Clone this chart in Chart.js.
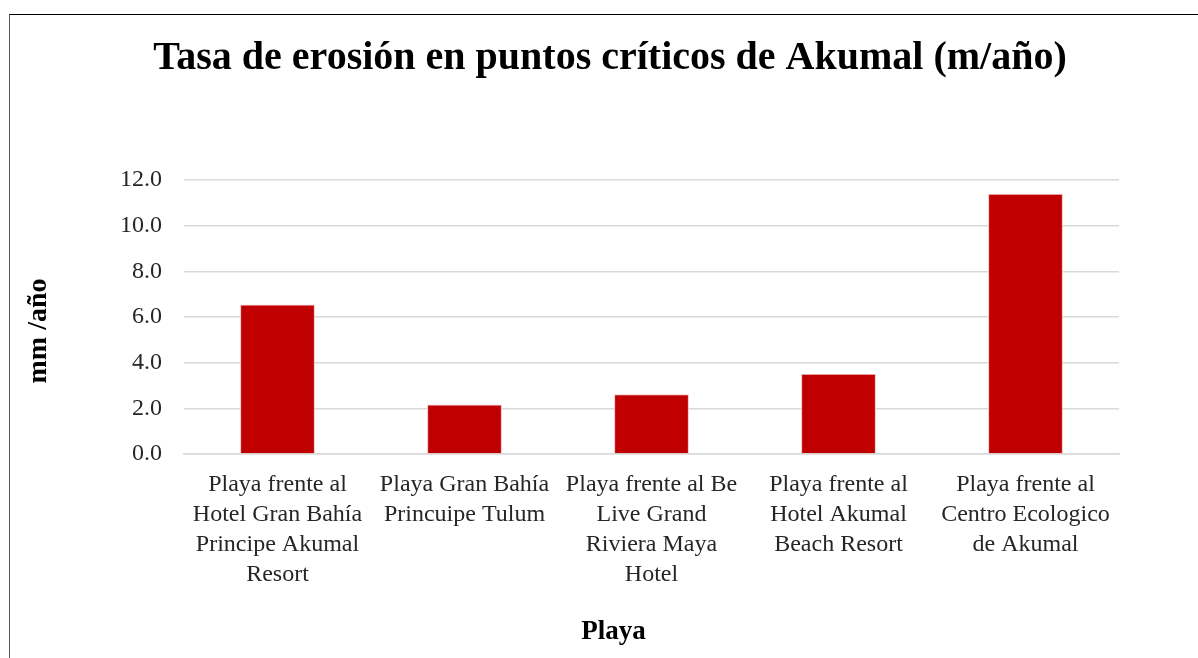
<!DOCTYPE html>
<html>
<head>
<meta charset="utf-8">
<script src="https://cdn.jsdelivr.net/npm/chart.js@4"></script>
<style>
  html, body { margin: 0; padding: 0; background: #fff; overflow: hidden; }
  #frame { position: absolute; left: 9px; top: 14px; width: 1300px; height: 800px;
           border-top: 1px solid #000; border-left: 1px solid #595959; }
  #wrap { position: absolute; left: 0; top: 0; width: 1198px; height: 658px; }
</style>
</head>
<body>
<div id="frame"></div>
<div id="wrap"><canvas id="chart"></canvas></div>
<script>
const chartTitle = 'Tasa de erosión en puntos críticos de Akumal (m/año)';
const yTitle = 'mm /año';
const xTitle = 'Playa';

const playas = [
    ['Playa frente al', 'Hotel Gran Bahía', 'Principe Akumal', 'Resort'],
    ['Playa Gran Bahía', 'Princuipe Tulum'],
    ['Playa frente al Be', 'Live Grand', 'Riviera Maya', 'Hotel'],
    ['Playa frente al', 'Hotel Akumal', 'Beach Resort'],
    ['Playa frente al', 'Centro Ecologico', 'de Akumal']
];
const tasaErosion = [6.55, 2.17, 2.62, 3.52, 11.4];

const serif = '"Liberation Serif", "DejaVu Serif", serif';

// titles drawn by hand so they sit where Excel put them (not centred on the plot area)
const titlesPlugin = {
    id: 'titles',
    afterDraw(chart) {
        const c = chart.ctx;
        const area = chart.chartArea;
        c.save();
        c.fillStyle = '#000';
        c.textAlign = 'center';
        c.textBaseline = 'alphabetic';

        c.font = 'bold 40px ' + serif;
        c.fillText(chartTitle, chart.width / 2 + 11, 69);

        c.font = 'bold 27px ' + serif;
        c.fillText(xTitle, (area.left + area.right) / 2 - 38, 639);

        c.font = 'bold 28px ' + serif;
        c.translate(46, (area.top + area.bottom) / 2 + 14);
        c.rotate(-Math.PI / 2);
        c.fillText(yTitle, 0, 0);
        c.restore();
    }
};

const ctx = document.getElementById('chart').getContext('2d');
new Chart(ctx, {
    type: 'bar',
    data: {
        labels: playas,
        datasets: [{
            label: 'Tasa de erosión',
            data: tasaErosion,
            backgroundColor: '#C00000',
            borderColor: '#f2c4c4',
            borderWidth: 1,
            barPercentage: 0.4,
            categoryPercentage: 1
        }]
    },
    options: {
        responsive: true,
        maintainAspectRatio: false,
        animation: false,
        layout: { padding: { left: 60, right: 79, top: 180, bottom: 52 } },
        plugins: {
            legend: { display: false },
            tooltip: { enabled: false },
            title: { display: false }
        },
        scales: {
            x: {
                grid: { display: false, drawTicks: false },
                border: { color: '#d9d9d9', width: 1.5 },
                ticks: {
                    color: '#262626',
                    font: { family: serif, size: 24, lineHeight: '30px' },
                    padding: 16,
                    maxRotation: 0,
                    autoSkip: false
                }
            },
            y: {
                min: 0,
                max: 12,
                grid: { color: '#d9d9d9', lineWidth: 1.5, drawTicks: false },
                border: { display: false },
                ticks: {
                    stepSize: 2,
                    color: '#262626',
                    font: { family: serif, size: 24 },
                    padding: 22,
                    callback: v => v.toFixed(1)
                },
                afterFit: scale => { scale.width = 124; }
            }
        }
    },
    plugins: [titlesPlugin]
});
</script>
</body>
</html>
